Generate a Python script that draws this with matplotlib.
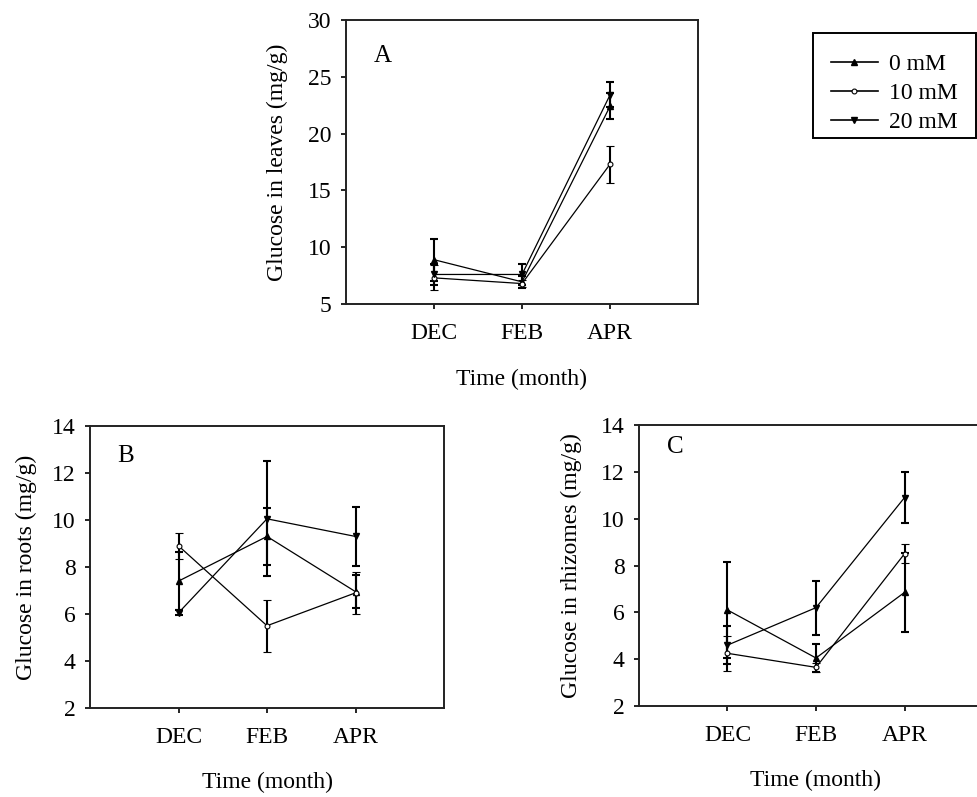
import matplotlib
matplotlib.use("Agg")
import matplotlib.pyplot as plt
from matplotlib.patches import Rectangle
import numpy as np

plt.rcParams['font.family'] = ['Liberation Serif', 'DejaVu Serif']

months = ["DEC", "FEB", "APR"]
treatments = ["0 mM", "10 mM", "20 mM"]

# Glucose in leaves (mg/g)
leaves_0 = [8.9, 6.95, 22.4]
leaves_0_err = [1.85, 0.5, 1.15]
leaves_10 = [7.3, 6.8, 17.3]
leaves_10_err = [1.1, 0.3, 1.65]
leaves_20 = [7.6, 7.6, 23.4]
leaves_20_err = [0.95, 0.9, 1.1]

# Glucose in roots (mg/g)
roots_0 = [7.4, 9.3, 6.95]
roots_0_err = [1.25, 1.2, 0.7]
roots_10 = [8.9, 5.5, 6.9]
roots_10_err = [0.55, 1.1, 0.9]
roots_20 = [6.05, 10.05, 9.3]
roots_20_err = [0.1, 2.45, 1.25]

# Glucose in rhizomes (mg/g)
rhiz_0 = [6.1, 4.05, 6.85]
rhiz_0_err = [2.05, 0.6, 1.7]
rhiz_10 = [4.25, 3.65, 8.5]
rhiz_10_err = [0.75, 0.2, 0.4]
rhiz_20 = [4.6, 6.2, 10.9]
rhiz_20_err = [0.8, 1.15, 1.1]

styles = [
    dict(marker='^', markersize=4, markerfacecolor='black', markeredgecolor='black'),
    dict(marker='o', markersize=3.5, markerfacecolor='white', markeredgecolor='black', markeredgewidth=0.8),
    dict(marker='v', markersize=4.5, markerfacecolor='black', markeredgecolor='black'),
]

FS = 17
W, H = 978, 797
fig = plt.figure(figsize=(W / 100, H / 100), dpi=100)


def box(l, t, r, b):
    return [l / W, 1 - b / H, (r - l) / W, (b - t) / H]


def panel(rect, data, ylim, yticks, ylabel, letter, ylab_x, letter_y):
    ax = fig.add_axes(rect)
    x = np.arange(1, len(months) + 1)
    for (vals, errs), st in zip(data, styles):
        ax.errorbar(x, vals, yerr=errs, color='black', linewidth=0.9,
                    elinewidth=1.5, capsize=3, capthick=1.5, **st)
    ax.set_xlim(0, 4)
    ax.set_ylim(*ylim)
    ax.set_xticks(x)
    ax.set_xticklabels(months)
    ax.set_yticks(yticks)
    ax.tick_params(axis='both', direction='out', length=3.5, width=1.2,
                   labelsize=FS, color='black')
    ax.tick_params(axis='x', pad=10)
    ax.tick_params(axis='y', pad=7)
    for s in ax.spines.values():
        s.set_linewidth(1.4)
        s.set_color('#222222')
    ax.set_ylabel(ylabel, fontsize=FS)
    ax.yaxis.set_label_coords(ylab_x, 0.5)
    ax.set_xlabel("Time (month)", fontsize=FS)
    ax.xaxis.set_label_coords(0.5, -0.227)
    ax.text(0.078, letter_y, letter, transform=ax.transAxes, fontsize=18,
            ha='left', va='center')
    return ax


panel(box(346, 20, 698, 304),
      [(leaves_0, leaves_0_err), (leaves_10, leaves_10_err),
       (leaves_20, leaves_20_err)],
      (5, 30), [5, 10, 15, 20, 25, 30],
      "Glucose in leaves (mg/g)", "A", -0.165, 0.875)

panel(box(90, 426, 444, 708),
      [(roots_0, roots_0_err), (roots_10, roots_10_err), (roots_20, roots_20_err)],
      (2, 14), [2, 4, 6, 8, 10, 12, 14],
      "Glucose in roots (mg/g)", "B", -0.15, 0.892)

panel(box(639, 425, 993, 706),
      [(rhiz_0, rhiz_0_err), (rhiz_10, rhiz_10_err), (rhiz_20, rhiz_20_err)],
      (2, 14), [2, 4, 6, 8, 10, 12, 14],
      "Glucose in rhizomes (mg/g)", "C", -0.16, 0.92)

# Legend entries without their own frame, boxed by a separate rectangle
leg_handles = [
    plt.Line2D([], [], color='black', linewidth=1.2, **st) for st in styles
]
fig.legend(leg_handles, treatments, loc='upper left',
           bbox_to_anchor=(813 / W, 1 - 36 / H), borderaxespad=0,
           fontsize=FS, frameon=False, handlelength=2.0,
           handletextpad=0.45, labelspacing=0.32, borderpad=0.75)
fig.patches.append(Rectangle((813 / W, 1 - 138 / H), (976 - 813) / W, (138 - 33) / H,
                             transform=fig.transFigure, fill=False,
                             edgecolor='black', linewidth=1.4))

fig.savefig("out.png", dpi=100)
